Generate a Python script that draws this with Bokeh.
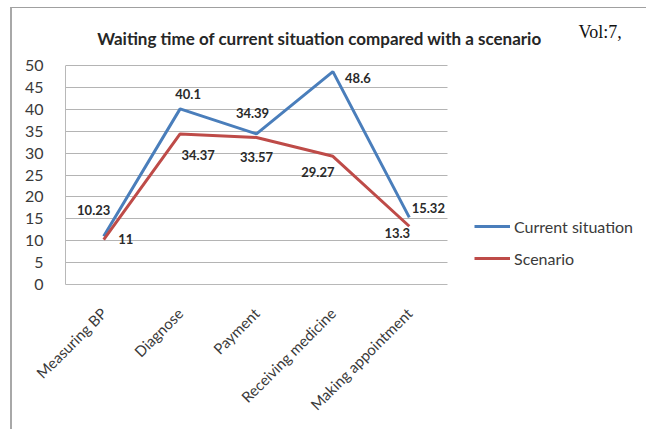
from bokeh.plotting import figure
from bokeh.models import (Range1d, Label, Legend, LegendItem, Grid,
                          ColumnDataSource, FixedTicker)
from bokeh.embed import file_html
from bokeh.resources import INLINE
from bokeh.core.properties import value
import math

# ---- data ----
categories = ["Measuring BP", "Diagnose", "Payment", "Receiving medicine", "Making appointment"]
current = [11.0, 40.1, 34.39, 48.6, 15.32]
scenario = [10.23, 34.37, 33.57, 29.27, 13.3]
current_labels = ["10.23", "40.1", "34.39", "48.6", "15.32"]
scenario_labels = ["11", "34.37", "33.57", "29.27", "13.3"]
series_names = ["Current situation", "Scenario"]
title_text = "Waiting time of current situation compared with a scenario"
corner_text = "Vol:7,"
y_ticks = [0, 5, 10, 15, 20, 25, 30, 35, 40, 45, 50]

# ---- label offsets (styling, pixels) ----
cur_dx = [-10, 8, -4, 25, 19]
cur_dy = [-26, -15, -21, 6, -9]
scn_dx = [22, 18, 0, -15, -12]
scn_dy = [-1, 21, 20, 16, 7]

BLUE = "#4A7EBB"
RED = "#BE4B48"
FONT = "Lato"

# ---- layout (page pixels) ----
ORIGIN_X, ORIGIN_Y = 12, 8          # figure origin on the page (margin + border)
FIG_W, FIG_H = 636, 422
PLOT_LEFT, PLOT_BOTTOM = 65, 284    # where the value-axis / category band starts
BAND = 76.4                          # px per category
UNIT = 4.38                          # px per value unit
n = len(categories)
x_pos = list(range(n))

def px_x(px):
    return -0.5 + (px - PLOT_LEFT) / BAND

def px_y(py):
    return (PLOT_BOTTOM - py) / UNIT

p = figure(width=FIG_W, height=FIG_H,
           x_range=Range1d(-0.5, px_x(ORIGIN_X + FIG_W)),
           y_range=Range1d(0, px_y(ORIGIN_Y)),
           output_backend="svg", toolbar_location=None, title=None,
           min_border_left=PLOT_LEFT - ORIGIN_X, min_border_right=0,
           min_border_top=0, min_border_bottom=FIG_H - (PLOT_BOTTOM - ORIGIN_Y))
p.outline_line_color = None
p.background_fill_color = "white"
p.border_fill_color = "white"
p.styles = {"margin-left": "10px", "margin-top": "7px",
            "border-left": "2px solid #a8a8a8", "border-top": "1px solid #a0a0a0"}

# axes
p.yaxis.ticker = FixedTicker(ticks=y_ticks)
p.yaxis.bounds = (y_ticks[0], y_ticks[-1])
p.yaxis.major_tick_line_color = None
p.yaxis.minor_tick_line_color = None
p.yaxis.axis_line_color = "#b8b8b8"
p.yaxis.major_label_text_font = FONT
p.yaxis.major_label_text_font_size = "16px"
p.yaxis.major_label_text_color = "#3a3a3a"
p.yaxis.major_label_standoff = 16

p.xaxis.ticker = FixedTicker(ticks=x_pos)
p.xaxis.major_label_overrides = {i: c for i, c in zip(x_pos, categories)}
p.xaxis.bounds = (-0.5, n - 0.5)
p.xaxis.major_tick_line_color = None
p.xaxis.minor_tick_line_color = None
p.xaxis.axis_line_color = "#b8b8b8"
p.xaxis.major_label_orientation = math.pi / 4
p.xaxis.major_label_text_font = FONT
p.xaxis.major_label_text_font_size = "15px"
p.xaxis.major_label_text_color = "#3a3a3a"
p.xaxis.major_label_standoff = 20

p.xgrid.grid_line_color = None
if "cross_bounds" in Grid.properties():
    p.ygrid.grid_line_color = "#b4b4b4"
    p.ygrid.cross_bounds = (-0.5, n - 0.5)
else:
    p.ygrid.grid_line_color = None
    p.segment(x0=[-0.5] * len(y_ticks), x1=[n - 0.5] * len(y_ticks),
              y0=y_ticks, y1=y_ticks, line_color="#b4b4b4", line_width=1)

src_c = ColumnDataSource(dict(x=x_pos, y=current, t=current_labels, dx=cur_dx, dy=cur_dy))
src_s = ColumnDataSource(dict(x=x_pos, y=scenario, t=scenario_labels, dx=scn_dx, dy=scn_dy))

r_c = p.line("x", "y", source=src_c, line_color=BLUE, line_width=3)
r_s = p.line("x", "y", source=src_s, line_color=RED, line_width=3)

for src in (src_c, src_s):
    p.text("x", "y", text="t", source=src, x_offset="dx", y_offset="dy",
           text_font=value(FONT), text_font_size="13px", text_font_style="bold",
           text_color="#2a2a2a", text_align="center", text_baseline="middle")

legend = Legend(items=[LegendItem(label=series_names[0], renderers=[r_c]),
                       LegendItem(label=series_names[1], renderers=[r_s])],
                location=(474 - PLOT_LEFT, PLOT_BOTTOM - 268), glyph_width=36,
                glyph_height=20, spacing=12, label_standoff=4, padding=0, margin=0,
                border_line_color=None, background_fill_alpha=0,
                label_text_font=FONT, label_text_font_size="16px",
                label_text_color="#3a3a3a")
p.add_layout(legend)

p.add_layout(Label(x=px_x(319), y=px_y(38), text=title_text,
                   text_font=FONT, text_font_size="17px", text_font_style="bold",
                   text_color="#262626", text_align="center", text_baseline="alphabetic"))
p.add_layout(Label(x=px_x(578), y=px_y(31), text=corner_text,
                   text_font="Liberation Serif", text_font_size="18px",
                   text_color="#111111", text_align="left", text_baseline="alphabetic"))

open("out.html", "w").write(file_html(p, INLINE))
